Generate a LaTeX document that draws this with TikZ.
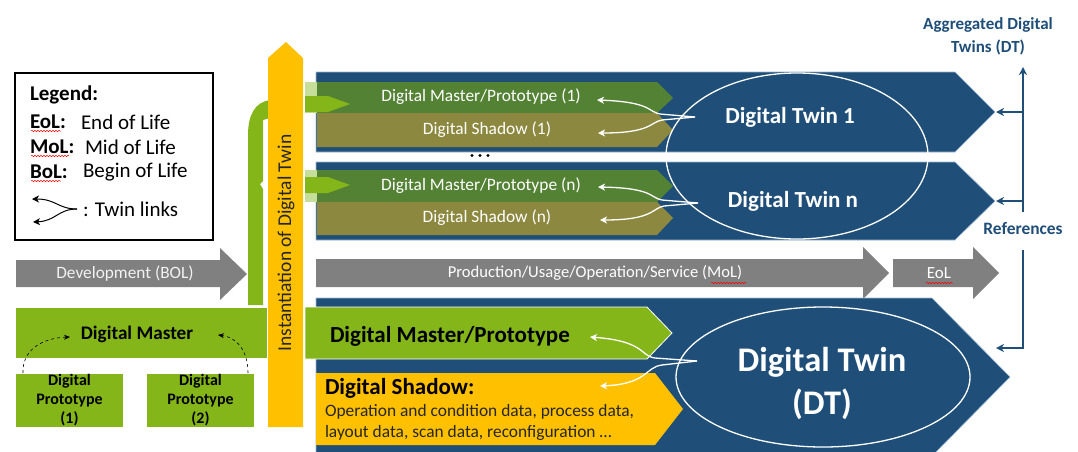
\documentclass[tikz,border=0pt]{standalone}
\usepackage{fontspec}
\setmainfont{Carlito}
\usetikzlibrary{arrows.meta,decorations.pathmorphing,shapes.geometric}
\definecolor{dtblue}{HTML}{1F4E79}
\definecolor{arrgray}{HTML}{808080}
\definecolor{dtyellow}{HTML}{FFC000}
\definecolor{bgreen}{HTML}{84B61A}
\definecolor{dkgreen}{HTML}{548235}
\definecolor{olive}{HTML}{8C8840}
\definecolor{palegreen}{HTML}{C5DF9A}
\definecolor{bandline}{HTML}{9DB9D3}
\newcommand\fsz[1]{\fontsize{#1}{#1}\selectfont}
\begin{document}
\begin{tikzpicture}[x=1pt,y=-1pt,
  every node/.style={inner sep=0pt,outer sep=0pt},
  band/.style={fill=dtblue,draw=bandline,line width=0.6pt},
  wlbl/.style={text=white,font=\fsz{17.4}},
  twin/.style={draw=white,line width=1.3pt,-{Stealth[length=7pt,width=7pt,inset=2pt]}},
  ltwin/.style={draw=black,line width=1pt,-{Stealth[length=7pt,width=7pt,inset=2pt]}},
  refarr/.style={draw=dtblue,line width=1.8pt,-{Stealth[length=8pt,width=8pt,inset=2.5pt]}},
  squig/.style={draw=red,line width=0.5pt,decorate,decoration={snake,amplitude=0.7pt,segment length=3pt}},
  dasharr/.style={draw=black,dashed,line width=0.6pt,-{Stealth[length=6pt,width=5pt]}},
  ell/.style={draw=white,line width=1.3pt,ellipse},
  lgk/.style={anchor=west,font=\fsz{21}\bfseries},
  lgv/.style={anchor=west,font=\fsz{21}}
]
\useasboundingbox (0,0) rectangle (1078,451);
\clip (0,0) rectangle (1078,451);

% ---------- legend ----------
\node[draw=black,line width=1.2pt,minimum width=198pt,minimum height=167pt,anchor=north west] (legend) at (15,73) {};
\node[lgk] (lgT) at (30,95) {Legend:};
\node[lgk] (eolK) at (30,122) {EoL:};
\node[lgv] (eolV) at (81,122) {End of Life};
\node[lgk] (molK) at (30,147) {MoL:};
\node[lgv] (molV) at (85,147) {Mid of Life};
\node[lgk] (bolK) at (30,172) {BoL:};
\node[lgv] (bolV) at (83,172) {Begin of Life};
\draw[squig] (31,131) -- (61,131);
\draw[squig] (31,156) -- (69,156);
\draw[squig] (31,181) -- (61,181);
\coordinate (lj) at (77,209);
\coordinate (la1) at (32,199);
\coordinate (la2) at (33,222);
\draw[ltwin] (lj) .. controls (58,209) and (56,199) .. (la1);
\draw[ltwin] (lj) .. controls (58,209) and (56,221) .. (la2);
\node[lgv] (tl) at (83,209) {: Twin links};

% ---------- gray life-cycle arrows ----------
\fill[arrgray] (16,260) -- (220,260) -- (220,248) -- (247,274) -- (220,300) -- (220,287) -- (16,287) -- cycle;
\node[text=white!95!black,font=\fsz{17.3}] (dev) at (125,274) {Development (BOL)};
\fill[arrgray] (316,259) -- (863,259) -- (863,247) -- (889,273) -- (863,299) -- (863,287) -- (316,287) -- cycle;
\node[text=white,font=\fsz{16.6}] (prod) at (595,273) {Production/Usage/Operation/Service (MoL)};
\fill[arrgray] (893,259) -- (973,259) -- (973,247) -- (999,273) -- (973,299) -- (973,287) -- (893,287) -- cycle;
\node[text=white,font=\fsz{17}] (eol) at (939,273) {EoL};
\draw[squig] (711,283) -- (746,283);
\draw[squig] (926,283) -- (953,283);

% ---------- blue bands ----------
\path[band] (316,72) -- (955,72) -- (995,112) -- (955,152) -- (316,152) -- cycle;
\path[band] (316,162) -- (955,162) -- (995,201) -- (955,240) -- (316,240) -- cycle;
\path[band] (316,298) -- (932,298) -- (1010,377) -- (932,456) -- (316,456) -- cycle;

% ---------- band 1 and n chevrons ----------
\fill[dkgreen] (316,82) -- (657,82) -- (673,98) -- (657,113) -- (316,113) -- cycle;
\fill[olive] (317,113) -- (657,113) -- (673,130) -- (657,147) -- (317,147) -- cycle;
\fill[dkgreen] (316,170) -- (657,170) -- (673,186) -- (657,202) -- (316,202) -- cycle;
\fill[olive] (317,202) -- (657,202) -- (673,218) -- (657,235) -- (317,235) -- cycle;
\node[wlbl] (dm1) at (481,97) {Digital Master/Prototype (1)};
\node[wlbl] (ds1) at (487,130) {Digital Shadow (1)};
\node[wlbl] (dmn) at (481,186) {Digital Master/Prototype (n)};
\node[wlbl] (dsn) at (487,218) {Digital Shadow (n)};
\fill (472,155.5) circle (1.7pt) (480,155.5) circle (1.7pt) (488,155.5) circle (1.7pt);

% ---------- ellipse for twins 1..n ----------
\node[ell,minimum width=262pt,minimum height=166pt] (dte) at (797,156) {};
\node[text=white,font=\fsz{23}\bfseries] (dt1) at (790,117) {Digital Twin 1};
\node[text=white,font=\fsz{23}\bfseries] (dtn) at (793,201) {Digital Twin n};

\coordinate (j1) at (695,117);
\coordinate (t1a) at (597,100);
\coordinate (t1b) at (598,133);
\draw[twin] (j1) -- (660,114) .. controls (648,112) and (652,102) .. (t1a);
\draw[twin] (j1) -- (662,120) .. controls (650,122) and (652,133) .. (t1b);
\coordinate (jn) at (698,203);
\coordinate (tna) at (598,187);
\coordinate (tnb) at (600,220);
\draw[twin] (jn) -- (662,200) .. controls (650,198) and (654,188) .. (tna);
\draw[twin] (jn) -- (664,206) .. controls (652,208) and (654,220) .. (tnb);

% ---------- bottom DT band ----------
\path[fill=bgreen,draw=white,line width=0.8pt] (305,307) -- (647,307) -- (672,333) -- (647,359) -- (305,359) -- cycle;
\node[anchor=west,font=\fsz{23}\bfseries] (dmp) at (330,336) {Digital Master/Prototype};
\fill[dtyellow] (316,373) -- (655,373) -- (683,409) -- (655,445) -- (316,445) -- cycle;
\node[anchor=west,font=\fsz{23}\bfseries] (dsh) at (325,388) {Digital Shadow:};
\node[anchor=west,font=\fsz{17.4},text=black!85] (dsl1) at (325,412) {Operation and condition data, process data,};
\node[anchor=west,font=\fsz{17.4},text=black!85] (dsl2) at (325,433) {layout data, scan data, reconfiguration \dots};

\node[ell,minimum width=294pt,minimum height=140pt] (dtb) at (823,377) {};
\node[text=white,font=\fsz{34.5}\bfseries] (dtt) at (822,362) {Digital Twin};
\node[text=white,font=\fsz{34.5}\bfseries] (dtdt) at (822,404) {(DT)};

\coordinate (jb) at (697,361);
\coordinate (tba) at (590,337);
\coordinate (tbb) at (600,386);
\draw[twin] (jb) -- (655,358) .. controls (640,356) and (645,341) .. (tba);
\draw[twin] (jb) -- (662,365) .. controls (645,367) and (648,384) .. (tbb);

% ---------- left development part ----------
\node[fill=bgreen,minimum width=251pt,minimum height=50pt,anchor=north west] (dmr) at (16,308) {};
\node[font=\fsz{19.2}\bfseries] (dmt) at (137,334) {Digital Master};
\node[fill=bgreen,minimum width=107pt,minimum height=53pt,anchor=north west,align=center,font=\fsz{16}\bfseries] (p1) at (16,374) {Digital\\[3pt]Prototype\\[3pt](1)};
\node[fill=bgreen,minimum width=107pt,minimum height=53pt,anchor=north west,align=center,font=\fsz{16}\bfseries] (p2) at (147,374) {Digital\\[3pt]Prototype\\[3pt](2)};
\coordinate (p1s) at (23,373);
\coordinate (p1e) at (70,337);
\coordinate (p2s) at (248,373);
\coordinate (p2e) at (218,335);
\draw[dasharr] (p1s) .. controls (22,350) and (42,338) .. (p1e);
\draw[dasharr] (p2s) .. controls (248,350) and (236,337) .. (p2e);

% ---------- green connector and instantiation arrow ----------
\fill[palegreen] (305,82) rectangle (317,113);
\fill[palegreen] (305,170) rectangle (317,202);
\fill[bgreen] (248,305) -- (248,135) .. controls (248,115) and (255,102) .. (270,100) -- (270,118) -- (263,120) -- (263,181) -- (260,184) -- (263,189) -- (263,305) -- cycle;
\fill[bgreen] (305,96) -- (328,96) -- (350,104) -- (328,112) -- (305,112) -- cycle;
\fill[bgreen] (305,177) -- (328,177) -- (350,185) -- (328,193) -- (305,193) -- cycle;
\fill[dtyellow] (268,427) -- (268,58) -- (286,42) -- (303,58) -- (303,427) -- cycle;
\node[rotate=90,font=\fsz{19.5},text=black!85] (inst) at (286,243) {Instantiation of Digital Twin};

% ---------- references ----------
\node[align=center,font=\fsz{17}\bfseries,text=dtblue] (agg) at (988,36) {Aggregated Digital\\[6pt]Twins (DT)};
\coordinate (rtop) at (1023,67);
\coordinate (rbot) at (1023,212);
\coordinate (r1) at (996,112);
\coordinate (rn) at (996,201);
\draw[refarr] (rbot) -- (rtop);
\draw[refarr] (1023,112) -- (r1);
\draw[refarr] (1023,201) -- (rn);
\node[font=\fsz{17.4}\bfseries,text=dtblue] (refs) at (1023,229) {References};
\coordinate (rl) at (1023,250);
\coordinate (rdt) at (996,348);
\draw[refarr] (rl) -- (1023,348) -- (rdt);
\end{tikzpicture}
\end{document}
